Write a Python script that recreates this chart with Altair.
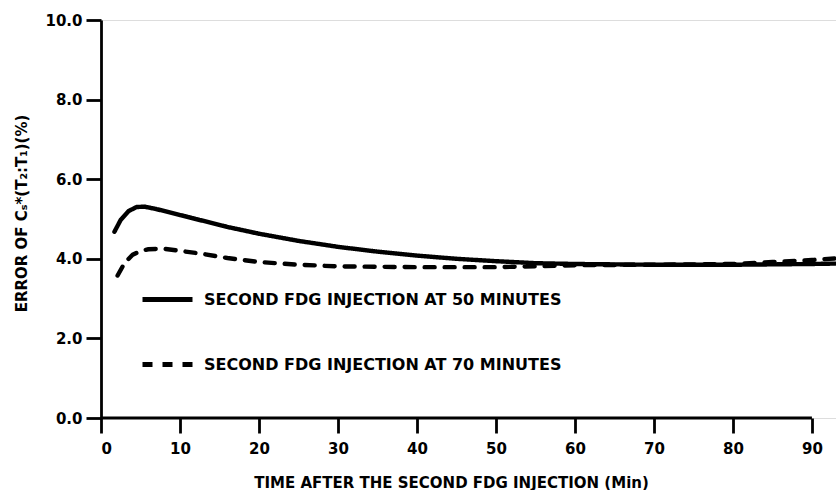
import altair as alt
import pandas as pd

# Series
t50 = [1.7, 2.5, 3.5, 4.5, 5.5, 7, 10, 13, 16, 20, 25, 30, 35, 40, 45, 50, 55, 60, 70, 80, 85, 90, 93]
e50 = [4.68, 4.98, 5.2, 5.3, 5.31, 5.25, 5.1, 4.95, 4.8, 4.63, 4.45, 4.3, 4.18, 4.08, 4.0, 3.94, 3.89, 3.87, 3.85, 3.85, 3.86, 3.87, 3.88]

t70 = [2.1, 3, 4, 5, 6, 8, 10, 13, 16, 20, 25, 30, 40, 50, 55, 60, 70, 80, 85, 90, 93]
e70 = [3.58, 3.9, 4.1, 4.2, 4.24, 4.25, 4.2, 4.12, 4.02, 3.92, 3.85, 3.81, 3.79, 3.79, 3.81, 3.84, 3.85, 3.87, 3.92, 3.97, 4.01]

series_names = ["SECOND FDG INJECTION AT 50 MINUTES", "SECOND FDG INJECTION AT 70 MINUTES"]
x_ticks = [0, 10, 20, 30, 40, 50, 60, 70, 80, 90]
y_ticks = [0, 2, 4, 6, 8, 10]

rows = []
for t, e in zip(t50, e50):
    rows.append({"t": t, "err": e, "series": series_names[0]})
for t, e in zip(t70, e70):
    rows.append({"t": t, "err": e, "series": series_names[1]})
df = pd.DataFrame(rows)

axis_df = pd.DataFrame({"x0": [x_ticks[0]], "x1": [x_ticks[-1]], "y": [0]})

FONT = "DejaVu Sans"

xscale = alt.Scale(domain=[0, 93.05], nice=False, zero=False)
yscale = alt.Scale(domain=[0, 10], nice=False)

lines = alt.Chart(df).mark_line(color="black", strokeWidth=4.4, strokeCap="round", strokeJoin="round").encode(
    x=alt.X("t:Q", scale=xscale,
            axis=alt.Axis(values=x_ticks, domain=False, tickSize=15, tickWidth=2.8, tickColor="black",
                          labelFont=FONT, labelFontSize=15, labelFontWeight="bold", labelColor="black",
                          labelPadding=8, grid=False,
                          title="TIME AFTER THE SECOND FDG INJECTION (Min)",
                          titleFont=FONT, titleFontSize=15, titleFontWeight="bold", titleColor="black",
                          titleX=350, titleY=64, titleAlign="center", titleBaseline="middle")),
    y=alt.Y("err:Q", scale=yscale,
            axis=alt.Axis(values=y_ticks, format=".1f", domainWidth=2.8, domainColor="black",
                          tickSize=15, tickWidth=2.8, tickColor="black",
                          labelFont=FONT, labelFontSize=15, labelFontWeight="bold", labelColor="black",
                          labelPadding=4, grid=False,
                          title="ERROR OF Cₛ*(T₂:T₁)(%)",
                          titleFont=FONT, titleFontSize=15, titleFontWeight="bold", titleColor="black",
                          titleX=-80, titleY=193, titleAngle=270, titleAlign="center", titleBaseline="middle")),
    strokeDash=alt.StrokeDash("series:N",
                              scale=alt.Scale(domain=series_names, range=[[1, 0], [10, 10]]),
                              legend=alt.Legend(orient="none", legendX=39, legendY=252, title=None,
                                                symbolType="stroke", symbolSize=2500, symbolStrokeWidth=5,
                                                symbolStrokeColor="black",
                                                labelFont=FONT, labelFontSize=16, labelFontWeight="bold",
                                                labelColor="black", labelOffset=9, labelLimit=700,
                                                rowPadding=27, padding=0)),
    detail="series:N",
)

xaxis_line = alt.Chart(axis_df).mark_rule(color="black", strokeWidth=2.8).encode(
    x=alt.X("x0:Q", scale=xscale),
    x2="x1:Q",
    y=alt.Y("y:Q", scale=yscale),
)

chart = alt.layer(xaxis_line, lines).properties(
    width=735, height=398,
    autosize=alt.AutoSizeParams(type="none"),
    padding={"left": 101, "top": 20, "right": 0, "bottom": 72},
).configure_view(stroke=None).configure(background="white")

chart.save("out.html", embed_options={"renderer": "svg", "actions": False})
